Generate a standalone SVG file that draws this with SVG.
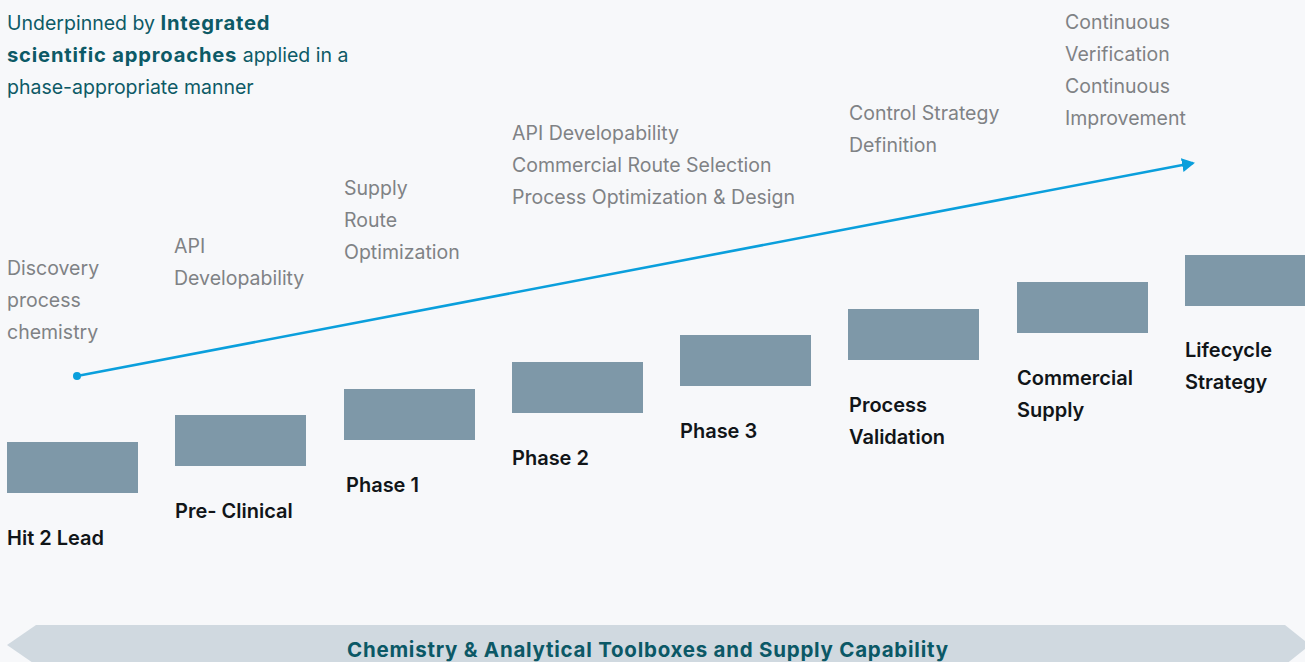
<svg xmlns="http://www.w3.org/2000/svg" width="1305" height="662" viewBox="0 0 1305 662">
<style>
.bg{fill:#f7f8fa}
.box{fill:#7e98a8}
.g{font-family:Inter,"Open Sans","Liberation Sans",sans-serif;font-size:19.5px;fill:#7f8285}
.lb{font-family:Inter,"Open Sans","Liberation Sans",sans-serif;font-size:20px;font-weight:600;fill:#111518}
.t{font-family:Inter,"Open Sans","Liberation Sans",sans-serif;font-size:19.5px;fill:#0d5a66}
.tb{font-weight:700;font-size:20.2px;letter-spacing:0.8px}
.band{fill:#d0d9e0}
.bt{font-family:Inter,"Open Sans","Liberation Sans",sans-serif;font-size:20.5px;font-weight:700;fill:#0b5866}
.arr{stroke:#0a9fdc;stroke-width:2.6;fill:none}
</style>
<defs>
<marker id="ah" markerWidth="14" markerHeight="14" refX="11" refY="7" orient="auto" markerUnits="userSpaceOnUse">
<path d="M0,0 L13,7 L0,14 Z" fill="#0a9fdc"/>
</marker>
</defs>
<rect class="bg" x="0" y="0" width="1305" height="662"/>

<g id="intro">
<text class="t" x="7" y="30">Underpinned by <tspan class="tb">Integrated</tspan></text>
<text class="t" x="7" y="62"><tspan class="tb">scientific approaches</tspan> applied in a</text>
<text class="t" x="7" y="94">phase-appropriate manner</text>
</g>

<g id="connectors">
<line class="arr" x1="77" y1="376" x2="1193" y2="163" marker-end="url(#ah)"/>
<circle cx="77" cy="376" r="4" fill="#0a9fdc"/>
</g>

<g id="hit2lead">
<rect class="box" x="7" y="442" width="131" height="51"/>
<text class="lb" x="7" y="545">Hit 2 Lead</text>
<text class="g" x="7" y="275">Discovery</text>
<text class="g" x="7" y="307">process</text>
<text class="g" x="7" y="339">chemistry</text>
</g>

<g id="preclinical">
<rect class="box" x="175" y="415" width="131" height="51"/>
<text class="lb" x="175" y="518">Pre- Clinical</text>
<text class="g" x="174" y="253">API</text>
<text class="g" x="174" y="285">Developability</text>
</g>

<g id="phase1">
<rect class="box" x="344" y="389" width="131" height="51"/>
<text class="lb" x="346" y="492">Phase 1</text>
<text class="g" x="344" y="195">Supply</text>
<text class="g" x="344" y="227">Route</text>
<text class="g" x="344" y="259">Optimization</text>
</g>

<g id="phase2">
<rect class="box" x="512" y="362" width="131" height="51"/>
<text class="lb" x="512" y="465">Phase 2</text>
<text class="g" x="512" y="140">API Developability</text>
<text class="g" x="512" y="172">Commercial Route Selection</text>
<text class="g" x="512" y="204">Process Optimization &amp; Design</text>
</g>

<g id="phase3">
<rect class="box" x="680" y="335" width="131" height="51"/>
<text class="lb" x="680" y="438">Phase 3</text>
</g>

<g id="processvalidation">
<rect class="box" x="848" y="309" width="131" height="51"/>
<text class="lb" x="849" y="412">Process</text>
<text class="lb" x="849" y="444">Validation</text>
<text class="g" x="849" y="120">Control Strategy</text>
<text class="g" x="849" y="152">Definition</text>
</g>

<g id="commercialsupply">
<rect class="box" x="1017" y="282" width="131" height="51"/>
<text class="lb" x="1017" y="385">Commercial</text>
<text class="lb" x="1017" y="417">Supply</text>
</g>

<g id="lifecycle">
<rect class="box" x="1185" y="255" width="120" height="51"/>
<text class="lb" x="1185" y="357">Lifecycle</text>
<text class="lb" x="1185" y="389">Strategy</text>
<text class="g" x="1065" y="29">Continuous</text>
<text class="g" x="1065" y="61">Verification</text>
<text class="g" x="1065" y="93">Continuous</text>
<text class="g" x="1065" y="125">Improvement</text>
</g>

<g id="toolbox">
<polygon class="band" points="36,625 1285,625 1310,645 1285,665 36,665 7,645"/>
<text class="bt" x="347" y="657" textLength="601" lengthAdjust="spacing">Chemistry &amp; Analytical Toolboxes and Supply Capability</text>
</g>
</svg>
